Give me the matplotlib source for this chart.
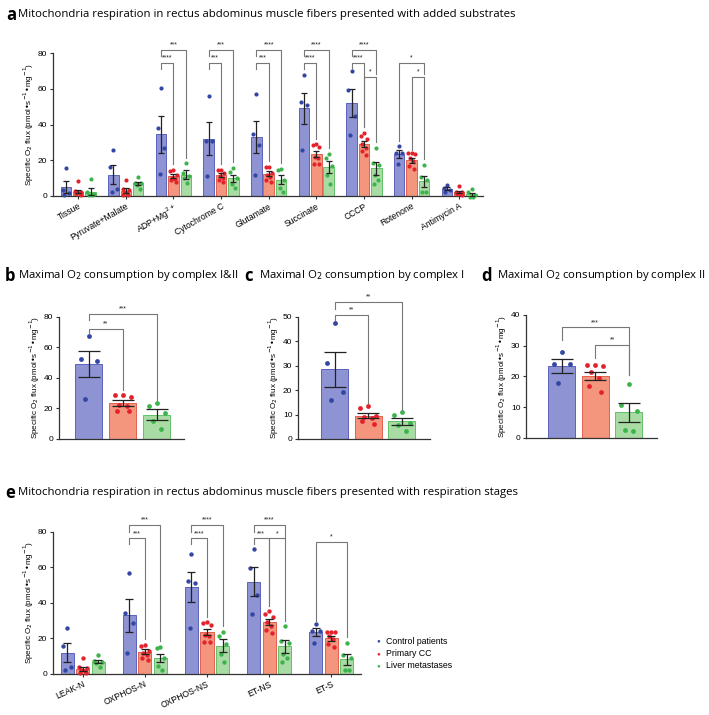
import numpy as np
import matplotlib
matplotlib.use('Agg')
import matplotlib.pyplot as plt

plt.rcParams['font.family'] = ['Liberation Sans', 'DejaVu Sans']

# --- datos ---
groups = ['Control patients', 'Primary CC', 'Liver metastases']
substrates = ['Tissue', 'Pyruvate+Malate', 'ADP+Mg$^{2+}$', 'Cytochrome C', 'Glutamate',
              'Succinate', 'CCCP', 'Rotenone', 'Antimycin A']

control_mean = [5.2, 12.0, 34.5, 32.0, 33.0, 49.0, 52.0, 23.4, 4.1]
control_sem = [3.3, 5.2, 10.3, 9.3, 9.2, 8.6, 8.0, 2.2, 0.9]
control_pts = [[15.4, 3.5, 1.5, 0.5], [26, 16, 4, 2.5], [60.5, 38, 27, 12.5], [56, 30.5, 30.5, 11],
               [57, 34.5, 28.5, 12], [67.5, 52.5, 51, 26], [70, 59.5, 44.5, 34], [28, 24, 24, 17.7],
               [6, 4.5, 3.5, 2.4]]

primary_mean = [2.5, 3.0, 11.0, 11.5, 12.5, 23.5, 29.3, 20.0, 2.2]
primary_sem = [1.0, 1.2, 1.2, 1.1, 1.4, 1.8, 1.7, 1.3, 0.6]
primary_pts = [[8.5, 3, 2.5, 2, 1.5, 1, 0.5], [9, 4, 3.5, 2.5, 1.5, 0.5, 0.3],
               [14.5, 14, 12, 10, 9.5, 9, 8], [14.5, 14.5, 13, 11, 10, 9, 8],
               [16.5, 16, 13, 12, 10.5, 9, 8], [29, 28.5, 27.5, 22, 21.5, 18, 18],
               [35.5, 33.5, 32, 29, 27, 25, 23], [23.8, 23.8, 23.5, 21.5, 19.5, 17, 15],
               [5.6, 2.5, 2, 1.5, 1.2, 1, 0.8]]

liver_mean = [2.5, 7.0, 12.0, 10.0, 9.0, 16.0, 15.5, 8.3, 1.0]
liver_sem = [1.8, 1.0, 2.3, 2.0, 2.5, 3.4, 3.5, 3.1, 0.9]
liver_pts = [[9.5, 2, 1, 0.5, 0.3], [10.5, 7.5, 7, 6, 4], [18.5, 13, 11, 10, 7.5],
             [15.5, 13.5, 10, 6.5, 4.5], [15, 14.5, 9, 4.5, 2], [23.5, 21.5, 17, 11.5, 6.5],
             [27, 18.5, 17.5, 11.5, 9, 6.5], [17.6, 10.7, 8.8, 2.4, 2.2], [4, 2.2, 0.4, -0.8, -0.8]]

# complejo I (panel c)
complex1_mean = [28.5, 9.5, 7.2]
complex1_sem = [7.1, 1.1, 1.3]
complex1_pts = [[47.4, 31.2, 19.2, 16], [13.3, 12.7, 9.5, 9, 8.4, 7.5, 6], [11, 9.8, 6.4, 5.9, 3.3]]

# estados respiratorios (panel e) -> columna de sustrato equivalente
stages = ['LEAK-N', 'OXPHOS-N', 'OXPHOS-NS', 'ET-NS', 'ET-S']
stage_source = ['Pyruvate+Malate', 'Glutamate', 'Succinate', 'CCCP', 'Rotenone']

# colores
dot_c = ['#3346a3', '#e4222b', '#3cb44b']
fill_c = ['#8d93d3', '#f4967e', '#a9dca4']
edge_c = ['#5a63bb', '#e2604f', '#62c067']

W, H = 709, 715
fig = plt.figure(figsize=(W / 100, H / 100), dpi=100)


def px_axes(x0, x1, ytop, ybot):
    return fig.add_axes([x0 / W, 1 - ybot / H, (x1 - x0) / W, (ybot - ytop) / H])


def col(name):
    i = substrates.index(name)
    return ([control_mean[i], primary_mean[i], liver_mean[i]],
            [control_sem[i], primary_sem[i], liver_sem[i]],
            [control_pts[i], primary_pts[i], liver_pts[i]])


def spread(n, half):
    # reparto fijo de puntos dentro de la barra
    order = [0, -1, 1, -0.5, 0.5, -0.75, 0.75]
    return np.array(order[:n]) * half


def draw_bars(ax, x, means, sems, pts, width, off, cap, ms):
    for k in range(3):
        xx = x + (k - 1) * off
        ax.bar(xx, means[k], width, color=fill_c[k], edgecolor=edge_c[k], linewidth=0.7, zorder=2)
        ax.errorbar(xx, means[k], yerr=sems[k], color='#222222', capsize=cap, elinewidth=0.9,
                    capthick=0.9, zorder=4)
        p = np.array(pts[k])
        ax.scatter(xx + spread(len(p), width * 0.3), p, s=ms, color=dot_c[k], zorder=3,
                   linewidths=0, clip_on=False)


def bracket(ax, x, off, i, j, level, label, bot_i, bot_j, fs=5):
    xi = x + (i - 1) * off
    xj = x + (j - 1) * off
    ax.plot([xi, xi, xj, xj], [bot_i, level, level, bot_j], color='#777777', lw=0.8,
            clip_on=False, zorder=5)
    ax.text((xi + xj) / 2, level + 0.8 * (ax.get_ylim()[1] / 80), label, ha='center', va='bottom',
            fontsize=fs, color='#222222', clip_on=False)


def style(ax, ymax, step, xlabels, rot):
    ax.set_ylim(0, ymax)
    ax.set_yticks(np.arange(0, ymax + 1, step))
    for s in ['top', 'right']:
        ax.spines[s].set_visible(False)
    for s in ['left', 'bottom']:
        ax.spines[s].set_linewidth(0.9)
        ax.spines[s].set_color('#333333')
    ax.tick_params(axis='both', labelsize=6, length=2.5, width=0.8, color='#333333', pad=1.5)
    ax.set_ylabel('Specific O$_2$ flux (pmol\u2022s$^{-1}$\u2022mg$^{-1}$)', fontsize=5.8, labelpad=1.5)
    if xlabels is not None:
        ax.set_xticks(range(len(xlabels)))
        ax.set_xticklabels(xlabels, rotation=rot, ha='right', rotation_mode='anchor', fontsize=6.2)
    else:
        ax.set_xticks([])


title_font = dict(family=['Open Sans', 'DejaVu Sans'], fontsize=8.2)
letter_font = dict(family=['Open Sans', 'DejaVu Sans'], fontsize=12, fontweight='bold')

# ---------- panel a ----------
ax = px_axes(53, 483, 53, 196)
ax.set_xlim(-0.53, 8.5)
style(ax, 80, 20, substrates, 30)
for g, name in enumerate(substrates):
    m, s, p = col(name)
    draw_bars(ax, g, m, s, p, 0.22, 0.26, 2.2, 9)
a_br = [(2, 0, 1, 74.3, '****', 71, 18), (2, 0, 2, 81.8, '***', 78.5, 21.5),
        (3, 0, 1, 74.3, '***', 71, 18), (3, 0, 2, 81.8, '***', 78.5, 19),
        (4, 0, 1, 74.3, '***', 71, 19.5), (4, 0, 2, 81.8, '****', 78.5, 18.5),
        (5, 0, 1, 74.3, '****', 71, 32), (5, 0, 2, 81.8, '****', 78.5, 27),
        (6, 0, 1, 74.3, '****', 71, 38.5), (6, 0, 2, 81.8, '****', 78.5, 68.5),
        (6, 1, 2, 66.5, '*', 38.5, 30),
        (7, 0, 2, 74.3, '*', 31, 68.5), (7, 1, 2, 66.5, '*', 26, 20.5)]
for b in a_br:
    bracket(ax, b[0], 0.26, *b[1:])
fig.text(6 / W, 1 - 15 / H, 'a', va='center', **letter_font)
fig.text(18 / W, 1 - 15 / H, 'Mitochondria respiration in rectus abdominus muscle fibers presented with added substrates',
         va='center', **title_font)

# ---------- panel b ----------
ax = px_axes(59, 184, 316.7, 439)
ax.set_xlim(-0.88, 2.8)
style(ax, 80, 20, None, 0)
m, s, p = col('Succinate')
draw_bars(ax, 1, m, s, p, 0.8, 1.0, 8, 12)
bracket(ax, 1, 1.0, 0, 1, 72, '**', 68.5, 32)
bracket(ax, 1, 1.0, 0, 2, 81.7, '***', 78, 25.5)
fig.text(5 / W, 1 - 276 / H, 'b', va='center', **letter_font)
fig.text(18 / W, 1 - 276 / H, 'Maximal O$_2$ consumption by complex I&II', va='center', **title_font)

# ---------- panel c ----------
ax = px_axes(298, 430, 316.7, 439)
ax.set_xlim(-1.1, 2.84)
style(ax, 50, 10, None, 0)
draw_bars(ax, 1, complex1_mean, complex1_sem, complex1_pts, 0.8, 1.0, 8, 12)
bracket(ax, 1, 1.0, 0, 1, 50.7, '**', 48.6, 14.6)
bracket(ax, 1, 1.0, 0, 2, 56, '**', 53, 12)
fig.text(244 / W, 1 - 276 / H, 'c', va='center', **letter_font)
fig.text(259 / W, 1 - 276 / H, 'Maximal O$_2$ consumption by complex I', va='center', **title_font)

# ---------- panel d ----------
ax = px_axes(526, 657, 315, 437.7)
ax.set_xlim(-1.07, 2.84)
style(ax, 40, 10, None, 0)
m, s, p = col('Rotenone')
draw_bars(ax, 1, m, s, p, 0.8, 1.0, 8, 12)
bracket(ax, 1, 1.0, 0, 2, 36, '***', 32, 20.4)
bracket(ax, 1, 1.0, 1, 2, 30.2, '**', 26, 20.4)
fig.text(481 / W, 1 - 276 / H, 'd', va='center', **letter_font)
fig.text(497 / W, 1 - 276 / H, 'Maximal O$_2$ consumption by complex II', va='center', **title_font)

# ---------- panel e ----------
ax = px_axes(53, 361, 531.7, 674)
ax.set_xlim(-0.48, 4.48)
style(ax, 80, 20, stages, 25)
for g, name in enumerate(stage_source):
    m, s, p = col(name)
    draw_bars(ax, g, m, s, p, 0.21, 0.25, 2.6, 10)
e_br = [(1, 0, 1, 76.2, '***', 73, 19.5), (1, 0, 2, 83.7, '***', 80, 18.5),
        (2, 0, 1, 76.2, '****', 73, 32), (2, 0, 2, 83.7, '****', 80, 27),
        (3, 0, 1, 76.2, '***', 73, 38.5), (3, 0, 2, 83.7, '****', 80, 76.2),
        (3, 1, 2, 76.2, '*', 38.5, 30),
        (4, 0, 2, 74.3, '*', 30, 21)]
for b in e_br:
    bracket(ax, b[0], 0.25, *b[1:])
fig.text(5 / W, 1 - 493 / H, 'e', va='center', **letter_font)
fig.text(18 / W, 1 - 493 / H, 'Mitochondria respiration in rectus abdominus muscle fibers presented with respiration stages',
         va='center', **title_font)

# leyenda
for k, g in enumerate(groups):
    y = 1 - (641 + 12.5 * k) / H
    fig.text(378 / W, y, '\u25cf', color=dot_c[k], fontsize=4.5, va='center', ha='center')
    fig.text(386 / W, y, g, fontsize=6.3, va='center')

fig.savefig('out.png', dpi=100)
